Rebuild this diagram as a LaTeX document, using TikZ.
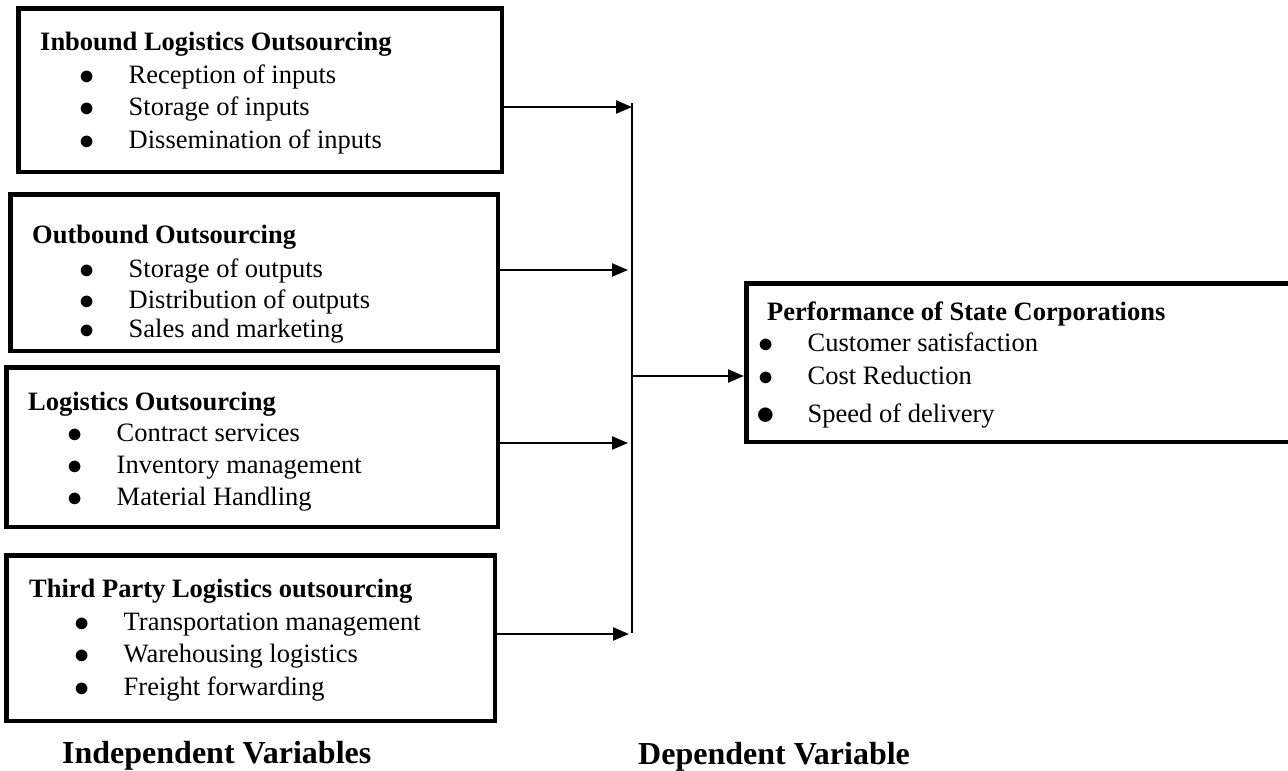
\documentclass[tikz,border=0pt]{standalone}
\usepackage{fontspec}
\setmainfont{Liberation Serif}
\usetikzlibrary{arrows.meta,positioning}

\newcommand{\bul}{\makebox[0pt]{\raisebox{-1.5pt}{\scalebox{1.22}{$\bullet$}}}\hspace{41.5pt}}
\newcommand{\bigbul}{\makebox[0pt]{\raisebox{-2.5pt}{\scalebox{1.5}{$\bullet$}}}\hspace{41.5pt}}

\begin{document}
\begin{tikzpicture}[x=1pt,y=-1pt,
    box/.style={draw, line width=4.5pt, inner sep=0pt, anchor=north west},
    head/.style={anchor=base west, inner sep=0pt, font=\fontsize{26.5}{32}\selectfont\bfseries},
    item/.style={anchor=base west, inner sep=0pt, font=\fontsize{26.5}{32}\selectfont},
    foot/.style={anchor=base west, inner sep=0pt, font=\fontsize{32}{38}\selectfont\bfseries},
    arr/.style={line width=2.4pt, -{Triangle[length=16pt,width=13pt]}}]
                \useasboundingbox (0,0) rectangle (1288,771);

                %the four independent variables
                \node[box, minimum width=483.5pt, minimum height=163.5pt] (inbound) at (16,6) {};
                \node[head] (inT) at (40,50) {Inbound Logistics Outsourcing};
                \node[item] (in1) at (87,83) {\bul Reception of inputs};
                \node[item] (in2) at (87,115) {\bul Storage of inputs};
                \node[item] (in3) at (87,148) {\bul Dissemination of inputs};

                \node[box, minimum width=487.5pt, minimum height=156.5pt] (outbound) at (8,192) {};
                \node[head] (outT) at (32,243) {Outbound Outsourcing};
                \node[item] (out1) at (87,277) {\bul Storage of outputs};
                \node[item] (out2) at (87,308) {\bul Distribution of outputs};
                \node[item] (out3) at (87,337) {\bul Sales and marketing};

                \node[box, minimum width=491.5pt, minimum height=159.5pt] (logist) at (4,365) {};
                \node[head] (logT) at (28,410) {Logistics Outsourcing};
                \node[item] (log1) at (75,441) {\bul Contract services};
                \node[item] (log2) at (75,473) {\bul Inventory management};
                \node[item] (log3) at (75,505) {\bul Material Handling};

                \node[box, minimum width=488.5pt, minimum height=165.5pt] (third) at (4,553) {};
                \node[head] (tpT) at (29,597) {Third Party Logistics outsourcing};
                \node[item] (tp1) at (82,630) {\bul Transportation management};
                \node[item] (tp2) at (82,662) {\bul Warehousing logistics};
                \node[item] (tp3) at (82,695) {\bul Freight forwarding};

                %the dependent variable (runs off the right edge)
                \node[box, minimum width=552pt, minimum height=158.5pt] (perf) at (744,281) {};
                \node[head] (perfT) at (767,320) {Performance of State Corporations};
                \node[item] (perf1) at (766,351) {\bul Customer satisfaction};
                \node[item] (perf2) at (766,384) {\bul Cost Reduction};
                \node[item] (perf3) at (766,422) {\bigbul Speed of delivery};

                %the bus
                \coordinate (bustop) at (632,103);
                \coordinate (busbot) at (632,633);
                \coordinate (j1) at (632,107);
                \coordinate (j2) at (628,270);
                \coordinate (j3) at (628,443);
                \coordinate (j4) at (629,634);
                \coordinate (jo) at (632,376);

                \draw[line width=1.8pt] (bustop) -- (busbot);
                \draw[arr] (inbound.east |- j1) -- (j1);
                \draw[arr] (outbound.east |- j2) -- (j2);
                \draw[arr] (logist.east |- j3) -- (j3);
                \draw[arr] (third.east |- j4) -- (j4);
                \draw[arr] (jo) -- (perf.west |- jo);

                \node[foot] (indep) at (62,763) {Independent Variables};
                \node[foot] (dep) at (638,764) {Dependent Variable};
\end{tikzpicture}
\end{document}
